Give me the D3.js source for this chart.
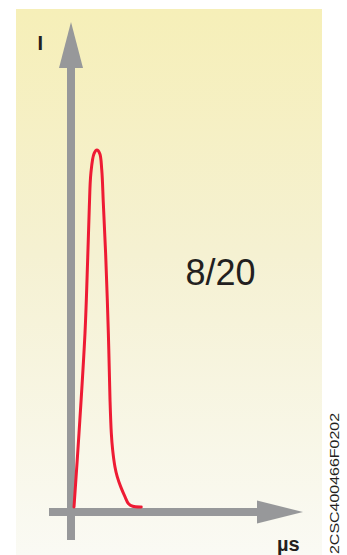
<!DOCTYPE html>
<html><head><meta charset="utf-8">
<script src="https://cdn.jsdelivr.net/npm/d3@7"></script>
<style>html,body{margin:0;padding:0;background:#fff;}svg{display:block;}</style>
</head><body>
<script>
// Data: 8/20 µs current impulse (time in µs, normalized current)
const timeUs = [0, 1.75, 3.84, 4.8, 5.35, 5.9, 7.0, 8.0, 9.0, 9.7, 10.25, 11.05, 12.0, 12.58, 13.04, 13.5, 14.3, 15.1, 16.3, 17.8, 18.97, 20.5, 23.5];
const current = [0, 0.207, 0.487, 0.70, 0.84, 0.935, 0.99, 1.0, 0.99, 0.944, 0.85, 0.71, 0.487, 0.30, 0.206, 0.16, 0.113, 0.085, 0.057, 0.029, 0.01, 0.002, 0];
const xAxisLabel = "µs";
const yAxisLabel = "I";
const waveLabel = "8/20";
const codeLabel = "2CSC400466F0202";

const W = 347, H = 555;
const svg = d3.select("body").append("svg").attr("width", W).attr("height", H);

const defs = svg.append("defs");
const grad = defs.append("linearGradient").attr("id", "bg").attr("x1", 0).attr("y1", 0).attr("x2", 0).attr("y2", 1);
grad.append("stop").attr("offset", "0%").attr("stop-color", "#f6efb8");
grad.append("stop").attr("offset", "45%").attr("stop-color", "#f5f1d2");
grad.append("stop").attr("offset", "100%").attr("stop-color", "#fafaf4");

svg.append("rect").attr("x", 16).attr("y", 9).attr("width", 306).attr("height", 546).attr("fill", "url(#bg)");

const x = d3.scaleLinear().domain([0, 80]).range([74, 303]);
const y = d3.scaleLinear().domain([0, 1]).range([507, 150]);

const axisColor = "#97989a";
// vertical axis
const yAxisX = 71;
svg.append("rect").attr("x", yAxisX - 4).attr("y", 66).attr("width", 8).attr("height", 540 - 66).attr("fill", axisColor);
svg.append("path").attr("d", `M${yAxisX},22 L${yAxisX + 12},68 L${yAxisX - 12},68 Z`).attr("fill", axisColor);
// horizontal axis
const xAxisY = 512;
svg.append("rect").attr("x", 49).attr("y", xAxisY - 4).attr("width", 259 - 49).attr("height", 8).attr("fill", axisColor);
svg.append("path").attr("d", `M303,${xAxisY} L257,${xAxisY - 11.5} L257,${xAxisY + 11.5} Z`).attr("fill", axisColor);

const data = timeUs.map((t, i) => ({t, v: current[i]}));
const line = d3.line().x(d => x(d.t)).y(d => y(d.v)).curve(d3.curveCatmullRom.alpha(0.5));
svg.append("path").datum(data).attr("d", line).attr("fill", "none")
  .attr("stroke", "#ee1b34").attr("stroke-width", 3).attr("stroke-linejoin", "round").attr("stroke-linecap", "round");

const font = "Liberation Sans, Arial, Helvetica, sans-serif";
svg.append("text").attr("x", 37.5).attr("y", 50).attr("font-family", font).attr("font-weight", "bold")
  .attr("font-size", 20).attr("fill", "#231f20").text(yAxisLabel);
svg.append("text").attr("x", 277).attr("y", 551).attr("font-family", font).attr("font-weight", "bold")
  .attr("font-size", 20).attr("fill", "#231f20").text(xAxisLabel);
svg.append("text").attr("x", 220.5).attr("y", 285).attr("text-anchor", "middle").attr("font-family", font)
  .attr("font-size", 36).attr("fill", "#231f20").text(waveLabel);
svg.append("text").attr("transform", "translate(339,554) rotate(-90)").attr("font-family", font)
  .attr("font-size", 12.8).attr("fill", "#231f20").attr("textLength", 141).attr("lengthAdjust", "spacingAndGlyphs")
  .text(codeLabel);
</script>
</body></html>
